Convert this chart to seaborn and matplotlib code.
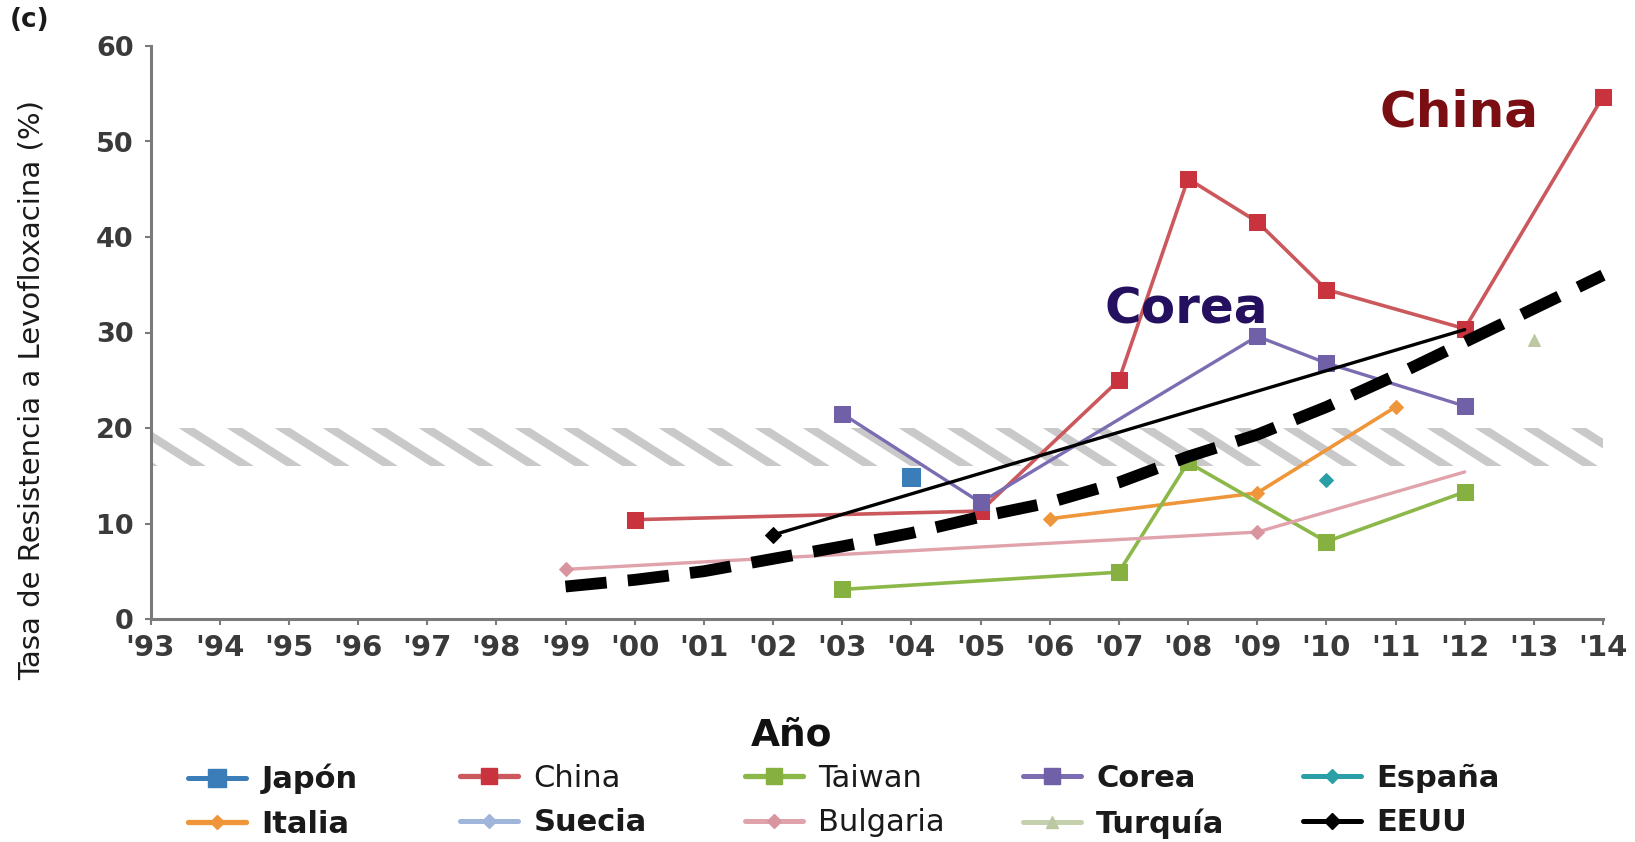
import numpy as np
import pandas as pd
import matplotlib
matplotlib.use("Agg")
import matplotlib.pyplot as plt
from matplotlib.patches import Rectangle
from matplotlib.lines import Line2D
from matplotlib.transforms import IdentityTransform
import seaborn as sns

# ---------------- data ----------------
years_ticks = list(range(1993, 2015))
tick_labels = ["'" + str(y)[-2:] for y in years_ticks]

japon_x = [2004]
japon_y = [14.9]
china_x = [2000, 2005, 2007, 2008, 2009, 2010, 2012, 2014]
china_y = [10.4, 11.3, 25.0, 46.1, 41.6, 34.5, 30.4, 54.7]
taiwan_x = [2003, 2007, 2008, 2010, 2012]
taiwan_y = [3.1, 4.9, 16.4, 8.1, 13.3]
corea_x = [2003, 2005, 2009, 2010, 2012]
corea_y = [21.5, 12.2, 29.6, 26.8, 22.3]
espana_x = [2010]
espana_y = [14.6]
italia_x = [2006, 2009, 2011]
italia_y = [10.5, 13.2, 22.2]
suecia_x = []
suecia_y = []
bulgaria_x = [1999, 2009, 2012]
bulgaria_y = [5.2, 9.1, 15.4]
turquia_x = [2013]
turquia_y = [29.2]
eeuu_x = [2002, 2012]
eeuu_y = [8.8, 30.3]
trend_x = list(range(1999, 2015))
trend_y = [3.4, 4.1, 5.0, 6.3, 7.6, 9.0, 10.7, 12.2, 14.3, 17.0, 19.3, 22.2, 25.5, 29.0, 32.5, 36.0]
band_lo, band_hi = 16, 20

# ---------------- style ----------------
sns.set_style("white")
plt.rcParams["font.family"] = ["DejaVu Sans"]

W, H = 1635, 842
fig = plt.figure(figsize=(W / 100, H / 100), dpi=100)
ax_left, ax_right, ax_top, ax_bot = 150.5, 1603, 46, 619
ax = fig.add_axes([ax_left / W, 1 - ax_bot / H, (ax_right - ax_left) / W, (ax_bot - ax_top) / H])
ax.set_xlim(1993, 2014)
ax.set_ylim(0, 60)

# name, x, y, line colour, marker colour, marker, size, lw, legend weight, markevery
series = [
    ("Japón", japon_x, japon_y, "#3B7DB8", "#3B7DB8", "s", 13, 2.4, "bold", None),
    ("Italia", italia_x, italia_y, "#F0963A", "#F0963A", "D", 7, 2.6, "bold", None),
    ("China", china_x, china_y, "#CB585D", "#C8333D", "s", 12, 2.6, "normal", None),
    ("Suecia", suecia_x, suecia_y, "#9FB5DA", "#9FB5DA", "D", 7, 2.4, "bold", None),
    ("Taiwan", taiwan_x, taiwan_y, "#8CB84A", "#86B040", "s", 12, 2.6, "normal", None),
    ("Bulgaria", bulgaria_x, bulgaria_y, "#E0A3AB", "#D8959F", "D", 7, 2.4, "normal", [0, 1]),
    ("Corea", corea_x, corea_y, "#7C6CB2", "#7060A8", "s", 12, 2.4, "bold", None),
    ("Turquía", turquia_x, turquia_y, "#C5D0AE", "#BCC8A2", "^", 9, 2.4, "bold", None),
    ("España", espana_x, espana_y, "#2A9FA5", "#2A9FA5", "D", 7, 2.4, "bold", None),
    ("EEUU", eeuu_x, eeuu_y, "black", "black", "D", 8, 2.4, "bold", [0]),
]

handles = []
for name, xs, ys, lc, mc, mk, ms, lw, _w, mev in series:
    if len(xs) > 0:
        df = pd.DataFrame({"x": xs, "y": ys})
        sns.lineplot(data=df, x="x", y="y", ax=ax, color=lc, marker=mk, markersize=ms,
                     markerfacecolor=mc, markeredgecolor=mc, linewidth=lw, legend=False,
                     clip_on=False, zorder=5 if name == "EEUU" else 3, errorbar=None)
        if mev is not None:
            ax.lines[-1].set_markevery(mev)
    h = Line2D([], [], color=lc, marker=mk, markersize=ms, markerfacecolor=mc,
               markeredgecolor=mc, linewidth=lw + 1.2)
    handles.append((h, name, _w))

# dashed trend line
tdf = pd.DataFrame({"x": trend_x, "y": trend_y})
sns.lineplot(data=tdf, x="x", y="y", ax=ax, color="black", linewidth=8.5, legend=False,
             zorder=4, errorbar=None, clip_on=False)
tl = ax.lines[-1]
tl.set_dashes((3.5, 1.8))
tl.set_dash_capstyle("butt")

# hatched band 16-20 %
fig.canvas.draw()
x0p, y0p = ax.transData.transform((1993, band_lo))
x1p, y1p = ax.transData.transform((2014, band_hi))
hpx = y1p - y0p
run = hpx / 0.635
clip = Rectangle((1993, band_lo), 21, band_hi - band_lo, transform=ax.transData,
                 facecolor="none", edgecolor="none")
ax.add_patch(clip)
for sx in np.arange(x0p - run, x1p + run, 48.0):
    ln = Line2D([sx - 0.3 * run, sx + 1.3 * run], [y1p + 0.3 * hpx, y0p - 0.3 * hpx],
                color="#C9C9C9", linewidth=6.0, solid_capstyle="butt",
                transform=IdentityTransform(), zorder=1)
    ax.add_artist(ln)
    ln.set_clip_path(clip)

# annotations
ax.text(2011.92, 53.0, "China", color="#7A0E12", fontsize=36, fontweight="bold",
        ha="center", va="center", zorder=6)
ax.text(2007.97, 32.4, "Corea", color="#24105E", fontsize=36, fontweight="bold",
        ha="center", va="center", zorder=6)

# axes styling
ax.set_xticks(years_ticks)
ax.set_xticklabels(tick_labels)
ax.set_yticks([0, 10, 20, 30, 40, 50, 60])
for s in ["top", "right"]:
    ax.spines[s].set_visible(False)
for s in ["left", "bottom"]:
    ax.spines[s].set_color("#7A7A7A")
    ax.spines[s].set_linewidth(2.2)
ax.tick_params(axis="both", which="both", length=4, width=1.5, color="#7A7A7A",
               labelcolor="#3A3A3A")
ax.tick_params(axis="x", pad=7, labelsize=21)
ax.tick_params(axis="y", pad=8, labelsize=19.5)
ax.tick_params(bottom=True, left=True)
for lab in ax.get_xticklabels() + ax.get_yticklabels():
    lab.set_fontweight("bold")
ax.set_xlabel("")
ax.set_ylabel("")
ax.grid(False)

fig.text(32 / W, 1 - 390 / H, "Tasa de Resistencia a Levofloxacina (%)", rotation=90,
         ha="center", va="center", fontsize=21, color="#1A1A1A")
fig.text(30 / W, 1 - 20 / H, "(c)", ha="center", va="center", fontsize=19,
         fontweight="bold", color="#1A1A1A")
fig.text(792 / W, 1 - 736 / H, "Año", ha="center", va="center", fontsize=27,
         fontweight="bold", color="#111111")

# legend: five columns of two entries
col_x = [188, 460, 745, 1023, 1303]
for i, cx in enumerate(col_x):
    pair = handles[2 * i:2 * i + 2]
    leg = fig.legend([p[0] for p in pair], [p[1] for p in pair], loc="upper left",
                     bbox_to_anchor=(cx / W, 1 - 764 / H), frameon=False, fontsize=22,
                     handlelength=1.9, handletextpad=0.5, labelspacing=0.5,
                     borderpad=0, borderaxespad=0)
    for t, p in zip(leg.get_texts(), pair):
        t.set_fontweight(p[2])
        t.set_color("#1A1A1A")

fig.savefig("out.png", dpi=100)
